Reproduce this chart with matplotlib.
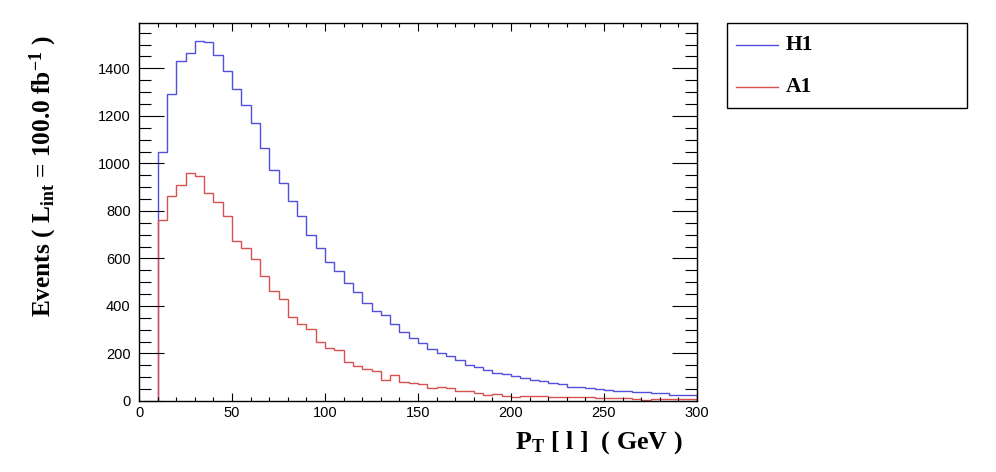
import numpy as np
import matplotlib
matplotlib.use('Agg')
import matplotlib.pyplot as plt
from matplotlib.patches import Rectangle
from matplotlib.lines import Line2D
from matplotlib.ticker import MultipleLocator

plt.rcParams['mathtext.fontset'] = 'custom'
plt.rcParams['mathtext.rm'] = 'Liberation Serif:bold'
plt.rcParams['mathtext.bf'] = 'Liberation Serif:bold'
plt.rcParams['mathtext.it'] = 'Liberation Serif:bold'

# histogram binning: 5 GeV bins from 10 to 300 GeV
edges = np.arange(10, 301, 5)

h1_counts = [1049, 1293, 1432, 1466, 1517, 1512, 1455, 1390, 1315, 1247,
             1171, 1064, 973, 916, 843, 777, 699, 645, 586, 548,
             498, 460, 413, 380, 360, 326, 291, 266, 245, 220,
             204, 190, 173, 152, 145, 131, 119, 113, 106, 98,
             90, 85, 77, 71, 60, 57, 53, 50, 47, 43,
             41, 39, 39, 32, 32, 27, 27, 27]

a1_counts = [761, 864, 910, 961, 949, 874, 836, 780, 672, 645,
             597, 527, 462, 429, 354, 322, 304, 249, 224, 215,
             166, 147, 133, 127, 89, 110, 81, 77, 72, 56,
             60, 56, 44, 44, 35, 27, 30, 22, 18, 22,
             22, 20, 15, 18, 16, 15, 15, 11, 11, 11,
             11, 8, 3, 10, 10, 7, 7, 10]

names = ['H1', 'A1']
colors = ['#5050dc', '#d85050']

W, H = 996, 472
fig = plt.figure(figsize=(W / 100, H / 100), dpi=100)
ax = fig.add_axes([139 / W, 1 - 401 / H, (697 - 139) / W, (401 - 23) / H])

ax.stairs(h1_counts, edges, baseline=0, color=colors[0], lw=1.0)
ax.stairs(a1_counts, edges, baseline=0, color=colors[1], lw=1.0)

ax.set_xlim(0, 300)
ax.set_ylim(0, 1591)
ax.xaxis.set_major_locator(MultipleLocator(50))
ax.xaxis.set_minor_locator(MultipleLocator(10))
ax.yaxis.set_major_locator(MultipleLocator(200))
ax.yaxis.set_minor_locator(MultipleLocator(50))

for sp in ax.spines.values():
	sp.set_linewidth(1.0)
ax.tick_params(which='both', direction='in', top=True, right=True, width=0.8,
               labelsize=10.5)
ax.tick_params(axis='y', which='major', length=18, pad=6)
ax.tick_params(axis='y', which='minor', length=8.6)
ax.tick_params(axis='x', which='major', length=5.8, pad=3.5)
ax.tick_params(axis='x', which='minor', length=2.9)
for lab in ax.get_xticklabels() + ax.get_yticklabels():
	lab.set_fontfamily('Liberation Sans')

ax.set_xlabel(r'P$_{\mathrm{T}}$ [ l ]  ( GeV )', fontfamily='Liberation Serif',
              fontweight='bold', fontsize=18.7)
ax.xaxis.set_label_coords(0.975, -0.075)
ax.xaxis.label.set_horizontalalignment('right')
ax.set_ylabel(r'Events ( L$_{\mathrm{int}}$ = 100.0 fb$^{\mathrm{-1}}$ )',
              fontfamily='Liberation Serif', fontweight='bold', fontsize=18.3)
ax.yaxis.set_label_coords(-0.2, 0.968)
ax.yaxis.label.set_verticalalignment('top')
ax.yaxis.label.set_horizontalalignment('right')

# legend box drawn ROOT-style
fig.add_artist(Rectangle((727 / W, 1 - 107.5 / H), (967 - 727) / W, (107.5 - 22.5) / H,
                         transform=fig.transFigure, fill=False, ec='black', lw=1.0))
for i, (nm, c) in enumerate(zip(names, colors)):
	yy = 1 - (44.7 + 42 * i) / H
	fig.add_artist(Line2D([736 / W, 778 / W], [yy, yy], transform=fig.transFigure,
	                      color=c, lw=1.0))
	fig.text(786 / W, yy, nm, fontfamily='Liberation Serif', fontweight='bold',
	         fontsize=15.5, va='center', ha='left')

fig.savefig('out.png', dpi=100)
